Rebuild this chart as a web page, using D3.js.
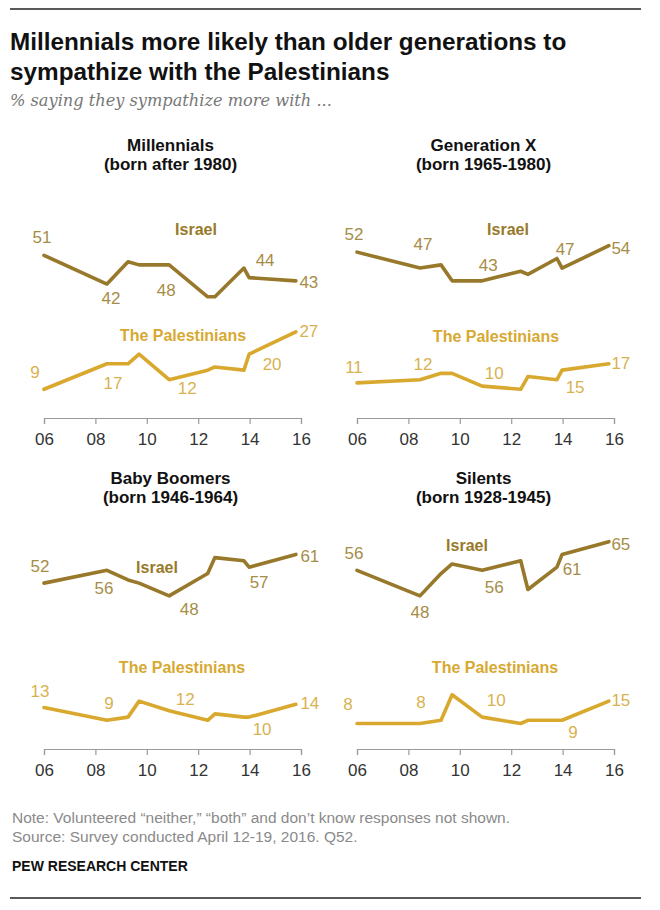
<!DOCTYPE html>
<html><head><meta charset="utf-8">
<script src="https://cdn.jsdelivr.net/npm/d3@7"></script>
<style>
html,body{margin:0;padding:0;background:#fff;}
svg{display:block;}
</style></head><body>
<svg id="chart" width="660" height="910"></svg>
<script>
// ---------- DATA ----------
const surveyDates = [2006.0, 2008.45, 2009.27, 2009.7, 2010.87, 2012.37, 2012.65, 2013.78, 2013.98, 2015.8];
const tickYears = [2006, 2008, 2010, 2012, 2014, 2016];
const tickLabels = ["06", "08", "10", "12", "14", "16"];
const generations = ["Millennials", "Generation X", "Baby Boomers", "Silents"];
const birthRanges = ["(born after 1980)", "(born 1965-1980)", "(born 1946-1964)", "(born 1928-1945)"];
const seriesNames = ["Israel", "The Palestinians"];
const israelMillennials = [51, 42, 49, 48, 48, 38, 38, 47, 44, 43];
const palestiniansMillennials = [9, 17, 17, 20, 12, 15, 16, 15, 20, 27];
const israelGenX = [52, 47, 48, 43, 43, 46, 45, 50, 47, 54];
const palestiniansGenX = [11, 12, 14, 14, 10, 9, 13, 12, 15, 17];
const israelBoomers = [52, 56, 53, 52, 48, 55, 60, 59, 57, 61];
const palestiniansBoomers = [13, 9, 10, 15, 12, 9, 11, 10, 10, 14];
const israelSilents = [56, 48, 55, 58, 56, 59, 50, 57, 61, 65];
const palestiniansSilents = [8, 8, 9, 17, 10, 8, 9, 9, 9, 15];
const labeledPoints = [0, 1, 4, 8, 9];

const titleLines = ["Millennials more likely than older generations to", "sympathize with the Palestinians"];
const subtitle = "% saying they sympathize more with ...";
const noteLines = ["Note: Volunteered \u201cneither,\u201d \u201cboth\u201d and don\u2019t know responses not shown.",
                   "Source: Survey conducted April 12-19, 2016. Q52."];
const credit = "PEW RESEARCH CENTER";

// ---------- LAYOUT / STYLE ----------
const panelSeries = [
  [israelMillennials, palestiniansMillennials],
  [israelGenX, palestiniansGenX],
  [israelBoomers, palestiniansBoomers],
  [israelSilents, palestiniansSilents]
];
const panelX = [[44, 301], [357, 614], [44, 301], [357, 614]];
const panelAxisY = [418, 418, 749, 749];
const pxPerPoint = 3.19;
const headingBaseline = [151, 151, 484, 484];
const seriesLabelPos = [
  [[196, 229], [183, 335]],
  [[508, 229], [496, 336]],
  [[157, 567], [182, 667]],
  [[467, 545], [495, 667]]
];
const valueLabelOffsets = [
  [[[-2,-18],[4,14],[-3,25],[16,-18],[13,1]], [[-9,-17],[6,19],[18,8],[23,10],[13,-1]]],
  [[[-3,-18],[3,-24],[6,-16],[3,-19],[12,2]], [[-3,-16],[3,-16],[12,-13],[13,17],[12,-1]]],
  [[[-4,-17],[-3,18],[20,13],[10,15],[14,2]], [[-4,-17],[2,-17],[16,-12],[13,12],[14,-1]]],
  [[[-3,-17],[0,16],[12,17],[10,15],[12,2]], [[-9,-19],[1,-21],[14,-17],[11,12],[12,-1]]]
];
const lineColors = ["#98792b", "#d9a92f"];
const nameColors = ["#98792b", "#d7a931"];
const valueColors = ["#a68d47", "#d8b24f"];

const svg = d3.select("#chart");
const SANS = "'Liberation Sans', Arial, sans-serif";
const NARROW = "'Liberation Sans Narrow', 'Liberation Sans', Arial, sans-serif";

// rules
svg.append("line").attr("x1", 10).attr("x2", 641).attr("y1", 9).attr("y2", 9)
  .attr("stroke", "#222").attr("stroke-width", 1.5);
svg.append("line").attr("x1", 10).attr("x2", 641).attr("y1", 898).attr("y2", 898)
  .attr("stroke", "#222").attr("stroke-width", 1.5);

// title
svg.selectAll("text.title").data(titleLines).enter().append("text")
  .attr("class", "title").attr("x", 10).attr("y", (d, i) => 50 + i * 30)
  .attr("font-family", NARROW).attr("font-weight", "bold").attr("font-size", 24.3)
  .attr("fill", "#111").text(d => d);
svg.append("text").attr("x", 10).attr("y", 106)
  .attr("font-family", "'DejaVu Serif', Georgia, serif").attr("font-style", "italic")
  .attr("font-size", 16.2).attr("fill", "#777").text(subtitle);

// panels
panelSeries.forEach((series, p) => {
  const x = d3.scaleLinear().domain([2006, 2016]).range(panelX[p]);
  const y0 = panelAxisY[p];
  const y = d3.scaleLinear().domain([0, 70]).range([y0, y0 - 70 * pxPerPoint]);
  const g = svg.append("g");
  const cx = (panelX[p][0] + panelX[p][1]) / 2 - 2;

  // heading
  g.append("text").attr("x", cx).attr("y", headingBaseline[p]).attr("text-anchor", "middle")
    .attr("font-family", SANS).attr("font-weight", "bold").attr("font-size", 17)
    .attr("fill", "#111").text(generations[p]);
  g.append("text").attr("x", cx).attr("y", headingBaseline[p] + 19).attr("text-anchor", "middle")
    .attr("font-family", SANS).attr("font-weight", "bold").attr("font-size", 17)
    .attr("fill", "#111").text(birthRanges[p]);

  // axis
  const axis = d3.axisBottom(x).tickValues(tickYears)
    .tickFormat((d, i) => tickLabels[i]).tickSize(6).tickSizeOuter(6).tickPadding(9);
  const ag = g.append("g").attr("transform", `translate(0,${y0})`).call(axis);
  ag.select(".domain").attr("stroke", "#9a9a9a").attr("stroke-width", 1.2);
  ag.selectAll(".tick line").attr("stroke", "#9a9a9a").attr("stroke-width", 1.2);
  ag.selectAll(".tick text").attr("font-family", SANS).attr("font-size", 17).attr("fill", "#333");

  const line = d3.line().x((d, i) => x(surveyDates[i])).y(d => y(d));
  series.forEach((vals, s) => {
    g.append("path").datum(vals).attr("d", line).attr("fill", "none")
      .attr("stroke", lineColors[s]).attr("stroke-width", 3.6)
      .attr("stroke-linejoin", "round").attr("stroke-linecap", "round");
    // series name
    g.append("text").attr("x", seriesLabelPos[p][s][0]).attr("y", seriesLabelPos[p][s][1] + 6)
      .attr("text-anchor", "middle").attr("font-family", SANS).attr("font-weight", "bold")
      .attr("font-size", 16).attr("fill", nameColors[s]).text(seriesNames[s]);
    // value labels
    labeledPoints.forEach((idx, k) => {
      const off = valueLabelOffsets[p][s][k];
      g.append("text").attr("x", x(surveyDates[idx]) + off[0]).attr("y", y(vals[idx]) + off[1] + 6)
        .attr("text-anchor", "middle").attr("font-family", SANS).attr("font-size", 17)
        .attr("fill", valueColors[s]).text(vals[idx]);
    });
  });
});

// footer
svg.selectAll("text.note").data(noteLines).enter().append("text")
  .attr("class", "note").attr("x", 12).attr("y", (d, i) => 823 + i * 19)
  .attr("font-family", NARROW).attr("font-size", 15.5).attr("fill", "#8a8a8a").text(d => d);
svg.append("text").attr("x", 12).attr("y", 871)
  .attr("font-family", NARROW).attr("font-weight", "bold").attr("font-size", 14)
  .attr("fill", "#111").text(credit);
</script>
</body></html>
